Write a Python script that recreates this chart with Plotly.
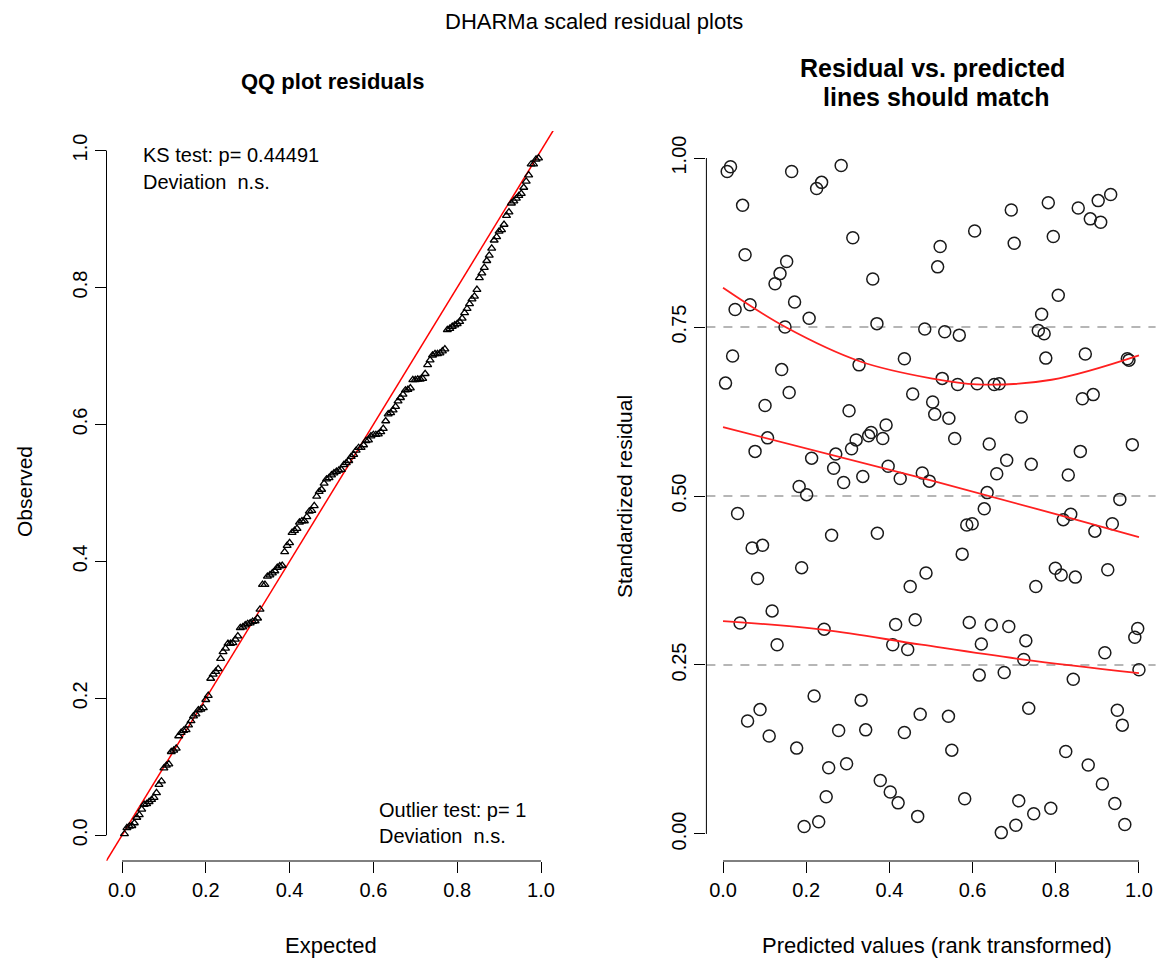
import plotly.graph_objects as go

# ---------------- data ----------------
# Right panel: rank-transformed predictions and scaled residuals
pred_x = [0.010, 0.018, 0.165, 0.284, 0.225, 0.237, 0.047, 0.312, 0.053, 0.153,
          0.137, 0.125, 0.360, 0.029, 0.065, 0.172, 0.207, 0.149, 0.370, 0.485,
          0.023, 0.141, 0.327, 0.436, 0.006, 0.159, 0.456, 0.932, 0.902, 0.782,
          0.854, 0.693, 0.883, 0.908, 0.605, 0.700, 0.794, 0.522, 0.516, 0.806,
          0.766, 0.533, 0.568, 0.758, 0.772, 0.776, 0.871, 0.972, 0.976, 0.527,
          0.564, 0.611, 0.652, 0.664, 0.101, 0.303, 0.504, 0.107, 0.077, 0.213,
          0.271, 0.266, 0.309, 0.320, 0.350, 0.356, 0.392, 0.384, 0.397, 0.336,
          0.290, 0.426, 0.479, 0.496, 0.183, 0.201, 0.035, 0.261, 0.371, 0.070,
          0.095, 0.189, 0.083, 0.488, 0.450, 0.118, 0.041, 0.243, 0.415, 0.462,
          0.509, 0.543, 0.717, 0.864, 0.890, 0.557, 0.640, 0.859, 0.984, 0.682,
          0.741, 0.658, 0.830, 0.635, 0.954, 0.628, 0.586, 0.599, 0.818, 0.836,
          0.894, 0.936, 0.575, 0.799, 0.813, 0.847, 0.925, 0.752, 0.592, 0.645,
          0.687, 0.997, 0.130, 0.408, 0.444, 0.219, 0.332, 0.089, 0.059, 0.474,
          0.111, 0.278, 0.343, 0.436, 0.177, 0.254, 0.297, 0.378, 0.402, 0.421,
          0.468, 0.248, 0.195, 0.230, 0.990, 0.621, 0.728, 0.918, 0.723, 0.616,
          0.676, 0.842, 1.000, 0.542, 0.735, 0.948, 0.960, 0.550, 0.824, 0.878,
          0.912, 0.942, 0.966, 0.581, 0.711, 0.747, 0.788, 0.704, 0.669]

resid_y = [0.980, 0.987, 0.980, 0.989, 0.955, 0.964, 0.930, 0.882, 0.857, 0.847,
           0.829, 0.814, 0.821, 0.776, 0.783, 0.787, 0.763, 0.750, 0.755, 0.747,
           0.707, 0.687, 0.694, 0.703, 0.667, 0.653, 0.651, 0.946, 0.937, 0.934,
           0.926, 0.923, 0.910, 0.905, 0.892, 0.874, 0.884, 0.869, 0.839, 0.797,
           0.769, 0.743, 0.738, 0.745, 0.740, 0.704, 0.710, 0.703, 0.701, 0.674,
           0.665, 0.666, 0.665, 0.666, 0.634, 0.626, 0.639, 0.586, 0.566, 0.556,
           0.562, 0.541, 0.570, 0.583, 0.589, 0.594, 0.605, 0.585, 0.544, 0.529,
           0.520, 0.526, 0.534, 0.522, 0.514, 0.502, 0.474, 0.442, 0.445, 0.423,
           0.427, 0.394, 0.378, 0.386, 0.366, 0.330, 0.312, 0.303, 0.310, 0.317,
           0.621, 0.615, 0.617, 0.644, 0.650, 0.585, 0.577, 0.566, 0.576, 0.553,
           0.547, 0.533, 0.531, 0.505, 0.495, 0.481, 0.457, 0.459, 0.465, 0.473,
           0.448, 0.459, 0.414, 0.393, 0.383, 0.380, 0.391, 0.366, 0.313, 0.309,
           0.307, 0.304, 0.280, 0.280, 0.273, 0.204, 0.198, 0.184, 0.167, 0.177,
           0.145, 0.153, 0.154, 0.150, 0.127, 0.098, 0.104, 0.079, 0.062, 0.046,
           0.026, 0.055, 0.011, 0.018, 0.291, 0.281, 0.286, 0.268, 0.258, 0.235,
           0.239, 0.229, 0.243, 0.174, 0.186, 0.183, 0.161, 0.124, 0.122, 0.102,
           0.074, 0.045, 0.014, 0.052, 0.049, 0.030, 0.038, 0.013, 0.002]

# Quantile regression curves (0.25, 0.5, 0.75)
q75_x = [0.0, 0.15, 0.33, 0.50, 0.61, 0.79, 1.0]
q75_y = [0.808, 0.750, 0.699, 0.674, 0.665, 0.672, 0.708]
q50_x = [0.0, 0.50, 0.82, 1.0]
q50_y = [0.602, 0.523, 0.470, 0.439]
q25_x = [0.0, 0.243, 0.477, 0.723, 1.0]
q25_y = [0.315, 0.302, 0.280, 0.258, 0.238]

# Reference lines / ticks
h_lines = [0.25, 0.50, 0.75]
qq_ticks = [0.0, 0.2, 0.4, 0.6, 0.8, 1.0]
res_yticks = [0.0, 0.25, 0.50, 0.75, 1.0]
diag = [-0.1, 1.1]

# QQ plot: sorted residuals vs uniform plotting positions i/(n+1)
observed = sorted(resid_y)
n = len(observed)
expected = [(i + 1) / (n + 1) for i in range(n)]

# ---------------- figure ----------------
# The page body has an 8px margin, so the figure is 8px smaller and all
# screen positions below are given in window pixels and shifted by 8.
OFF = 8
W, H = 1164 - OFF, 966 - OFF
FONT = "Arial, 'Liberation Sans', Helvetica, sans-serif"
FS = 20


def px(x):
    return (x - OFF) / W


def py(y):
    return 1 - (y - OFF) / H


fig = go.Figure()

# Left: QQ plot
fig.add_trace(go.Scatter(x=diag, y=diag, mode="lines",
                         line=dict(color="#ff0000", width=1.5),
                         xaxis="x", yaxis="y", hoverinfo="skip"))
fig.add_trace(go.Scatter(x=expected, y=observed, mode="markers",
                         marker=dict(symbol="triangle-up-open", size=7,
                                     color="black", line=dict(width=1.3)),
                         xaxis="x", yaxis="y"))

# Right: residual vs predicted
fig.add_trace(go.Scatter(x=pred_x, y=resid_y, mode="markers",
                         marker=dict(symbol="circle-open", size=12,
                                     color="#1a1a1a", line=dict(width=1.5)),
                         xaxis="x2", yaxis="y2"))
for qx, qy in [(q75_x, q75_y), (q50_x, q50_y), (q25_x, q25_y)]:
    fig.add_trace(go.Scatter(x=qx, y=qy, mode="lines",
                             line=dict(color="#ff2020", width=1.8,
                                       shape="spline", smoothing=1.0),
                             xaxis="x2", yaxis="y2", hoverinfo="skip"))

plot_top, plot_bot = 131, 861
ydom = [py(plot_bot), py(plot_top)]

tick_common = dict(showgrid=False, zeroline=False, showline=False,
                   ticks="outside", ticklen=11, tickwidth=1, tickcolor="black",
                   tickfont=dict(family=FONT, size=FS, color="black"))

fig.update_layout(
    width=W, height=H,
    margin=dict(l=0, r=0, t=0, b=0),
    paper_bgcolor="white", plot_bgcolor="white",
    showlegend=False,
    font=dict(family=FONT, size=FS, color="black"),
    xaxis=dict(domain=[px(106.5), px(556.5)], range=[-0.037, 1.037],
               tickvals=qq_ticks, tickformat=".1f", anchor="y", **tick_common),
    yaxis=dict(domain=ydom, range=[-0.0375, 1.0285],
               tickvals=qq_ticks, tickformat=".1f", tickangle=-90,
               anchor="x", **tick_common),
    xaxis2=dict(domain=[px(706.4), px(1155.6)], range=[-0.04, 1.04],
                tickvals=qq_ticks, tickformat=".1f", anchor="y2", **tick_common),
    yaxis2=dict(domain=ydom, range=[-0.04, 1.04],
                tickvals=res_yticks, tickformat=".2f", tickangle=-90,
                anchor="x2", **tick_common),
)

shapes = []
# R-style axis lines spanning first to last tick
for xr, yr, tv in [("x", "y", qq_ticks), ("x2", "y2", qq_ticks)]:
    shapes.append(dict(type="line", xref=xr, yref=yr + " domain",
                       x0=tv[0], x1=tv[-1], y0=0, y1=0,
                       line=dict(color="black", width=1)))
shapes.append(dict(type="line", xref="x domain", yref="y",
                   x0=0, x1=0, y0=qq_ticks[0], y1=qq_ticks[-1],
                   line=dict(color="black", width=1)))
shapes.append(dict(type="line", xref="x2 domain", yref="y2",
                   x0=0, x1=0, y0=res_yticks[0], y1=res_yticks[-1],
                   line=dict(color="black", width=1)))
for h in h_lines:
    shapes.append(dict(type="line", xref="x2 domain", yref="y2",
                       x0=0, x1=1, y0=h, y1=h, layer="below",
                       line=dict(color="#6e6e6e", width=1.2, dash="9px,8px")))
fig.update_layout(shapes=shapes)

ann = []


def add_text(text, x, y, xanchor="center", yanchor="middle", angle=0, size=FS):
    ann.append(dict(text=text, x=px(x), y=py(y), xref="paper", yref="paper",
                    xanchor=xanchor, yanchor=yanchor, showarrow=False,
                    textangle=angle, font=dict(family=FONT, size=size, color="black")))


add_text("DHARMa scaled residual plots", 594, 21, size=22)
add_text("<b>QQ plot residuals</b>", 332, 81, size=22)
add_text("<b>Residual vs. predicted</b>", 932, 68, size=25)
add_text("<b>lines should match</b>", 936, 97, size=25)
add_text("KS test: p= 0.44491", 141, 155, xanchor="left")
add_text("Deviation&nbsp; n.s.", 141, 182, xanchor="left")
add_text("Outlier test: p= 1", 377, 810, xanchor="left")
add_text("Deviation&nbsp; n.s.", 377, 836, xanchor="left")
add_text("Observed", 25, 492, angle=-90, size=21)
add_text("Standardized residual", 624, 496, angle=-90, size=21)
add_text("Expected", 331, 945, size=22)
add_text("Predicted values (rank transformed)", 937, 945, size=22)
fig.update_layout(annotations=ann)

fig.write_html("out.html")
